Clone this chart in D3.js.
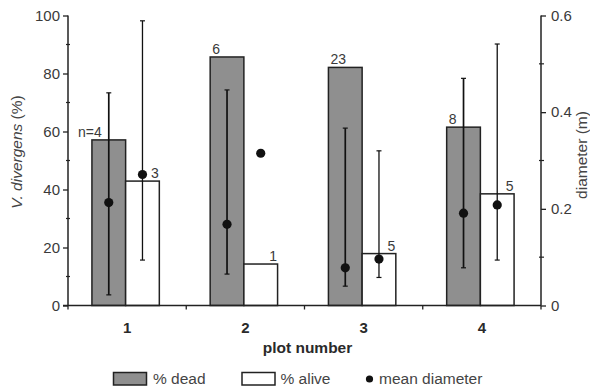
<!DOCTYPE html>
<html><head><meta charset="utf-8">
<script src="https://cdn.jsdelivr.net/npm/d3@7"></script>
<style>
html,body{margin:0;padding:0;background:#fff;}
svg{display:block;font-family:"Liberation Sans",Arial,sans-serif;}
</style></head>
<body><svg id="c" width="590" height="390"></svg>
<script>
const plots = ["1","2","3","4"];
const nDead = [4,6,23,8];
const nAlive = [3,1,5,5];
const pctDead = [57.1,85.7,82.1,61.5];
const pctAlive = [42.9,14.3,17.9,38.5];
const diamDead = [0.213,0.168,0.078,0.191];
const diamDeadLo = [0.022,0.065,0.040,0.078];
const diamDeadHi = [0.440,0.446,0.367,0.470];
const diamAlive = [0.271,0.315,0.096,0.208];
const diamAliveLo = [0.094,null,0.058,0.094];
const diamAliveHi = [0.589,null,0.320,0.541];
const leftTicks = [0,20,40,60,80,100];
const leftMinor = [10,30,50,70,90];
const rightTicks = [0,0.2,0.4,0.6];
const rightMinor = [0.1,0.3,0.5];
const legendLabels = ["% dead","% alive","mean diameter"];

const svg = d3.select("#c");
const L = 68, R = 541, B = 305.5, T = 15.5;
const x = d3.scaleBand().domain(plots).range([L,R]).padding(0);
const yL = d3.scaleLinear().domain([0,100]).range([B,T]);
const yR = d3.scaleLinear().domain([0,0.6]).range([B,T]);
const bw = x.bandwidth()*0.285;
const gc = p => x(p) + x.bandwidth()/2 - 1.5;
const deadX = p => gc(p) - bw;
const aliveX = p => gc(p);

const ink = "#222", txt = "#3a3a3a";

// bars
const rows = plots.map((p,i)=>({p,i}));
svg.append("g").selectAll("rect.dead").data(rows).join("rect")
  .attr("x",d=>deadX(d.p)).attr("y",d=>yL(pctDead[d.i]))
  .attr("width",bw).attr("height",d=>B-yL(pctDead[d.i]))
  .attr("fill","#8f8f8f").attr("stroke",ink).attr("stroke-width",1.5);
svg.append("g").selectAll("rect.alive").data(rows).join("rect")
  .attr("x",d=>aliveX(d.p)).attr("y",d=>yL(pctAlive[d.i]))
  .attr("width",bw).attr("height",d=>B-yL(pctAlive[d.i]))
  .attr("fill","#fff").attr("stroke",ink).attr("stroke-width",1.5);

// n labels
const lab = svg.append("g").attr("font-size",14).attr("fill",txt);
rows.forEach(d=>{
  const xx = deadX(d.p)+2, yy = yL(pctDead[d.i])-3;
  lab.append("text").attr("x",xx).attr("y",yy).text(nDead[d.i]);
  if(d.i===0) lab.append("text").attr("x",xx).attr("y",yy).attr("text-anchor","end").text("n=");
  lab.append("text").attr("x",aliveX(d.p)+bw-0.5).attr("y",yL(pctAlive[d.i])-3)
    .attr("text-anchor","end").text(nAlive[d.i]);
});

// error bars + dots
const eb = svg.append("g").attr("stroke","#111");
function drawErr(cx, m, lo, hi, sw){
  if(lo!=null){
    eb.append("line").attr("x1",cx).attr("x2",cx).attr("y1",yR(lo)).attr("y2",yR(hi)).attr("stroke-width",sw);
    [lo,hi].forEach(v=>eb.append("line").attr("x1",cx-2.5).attr("x2",cx+2.5).attr("y1",yR(v)).attr("y2",yR(v)).attr("stroke-width",1.2));
  }
  svg.append("circle").attr("cx",cx).attr("cy",yR(m)).attr("r",4.6).attr("fill","#111");
}
rows.forEach(d=>{
  drawErr(deadX(d.p)+bw/2, diamDead[d.i], diamDeadLo[d.i], diamDeadHi[d.i], 1.7);
  drawErr(aliveX(d.p)+bw/2, diamAlive[d.i], diamAliveLo[d.i], diamAliveHi[d.i], 1.3);
});

// left axis
const ga = svg.append("g").attr("transform",`translate(${L},0)`)
  .call(d3.axisLeft(yL).tickValues(leftTicks).tickSize(5).tickPadding(3).tickFormat(d3.format("d")));
ga.select(".domain").attr("stroke",ink).attr("stroke-width",1.5).attr("d",`M0,${T}V${B}`);
ga.selectAll(".tick line").attr("stroke",ink).attr("stroke-width",1.3);
ga.selectAll(".tick text").attr("font-size",15).attr("fill",txt).attr("font-family","Liberation Sans, Arial, sans-serif");
svg.append("g").selectAll("line").data(leftMinor).join("line")
  .attr("x1",L-2).attr("x2",L+2).attr("y1",d=>yL(d)).attr("y2",d=>yL(d)).attr("stroke",ink).attr("stroke-width",1.2);

// right axis
const gr = svg.append("g").attr("transform",`translate(${R},0)`)
  .call(d3.axisRight(yR).tickValues(rightTicks).tickSize(5).tickPadding(5).tickFormat(d=>d===0?"0":d3.format(".1f")(d)));
gr.select(".domain").attr("stroke",ink).attr("stroke-width",1.5).attr("d",`M0,${T}V${B}`);
gr.selectAll(".tick line").attr("stroke",ink).attr("stroke-width",1.3);
gr.selectAll(".tick text").attr("font-size",15).attr("fill",txt).attr("font-family","Liberation Sans, Arial, sans-serif");
svg.append("g").selectAll("line").data(rightMinor).join("line")
  .attr("x1",R-2).attr("x2",R+3).attr("y1",d=>yR(d)).attr("y2",d=>yR(d)).attr("stroke",ink).attr("stroke-width",1.2);

// bottom axis
svg.append("line").attr("x1",L-5).attr("x2",R).attr("y1",B).attr("y2",B).attr("stroke",ink).attr("stroke-width",1.5);
const bounds = plots.map(p=>x(p)).concat([R]);
svg.append("g").selectAll("line").data(bounds).join("line")
  .attr("x1",d=>d).attr("x2",d=>d).attr("y1",B).attr("y2",B+4).attr("stroke",ink).attr("stroke-width",1.3);
const gb = svg.append("g").attr("transform",`translate(0,${B})`)
  .call(d3.axisBottom(x).tickSize(0).tickPadding(16));
gb.select(".domain").remove();
gb.selectAll(".tick text").attr("font-size",15).attr("font-weight","bold").attr("fill","#2a2a2a")
  .attr("font-family","Liberation Sans, Arial, sans-serif").attr("dy",0).attr("y",27.5);

// axis titles
svg.append("text").attr("x",(L+R)/2+3).attr("y",353).attr("text-anchor","middle")
  .attr("font-size",15.5).attr("font-weight","bold").attr("fill","#2a2a2a").text("plot number");
const yt = svg.append("text").attr("transform","translate(22,152) rotate(-90)").attr("text-anchor","middle")
  .attr("font-size",15.5).attr("fill","#444");
yt.append("tspan").attr("font-style","italic").text("V. divergens");
yt.append("tspan").text(" (%)");
svg.append("text").attr("transform","translate(586.5,155) rotate(-90)").attr("text-anchor","middle")
  .attr("font-size",15.5).attr("fill","#444").text("diameter (m)");

// legend
const lg = svg.append("g").attr("font-size",15.5).attr("fill","#444");
lg.append("rect").attr("x",113.5).attr("y",372.5).attr("width",33).attr("height",12.5)
  .attr("fill","#8f8f8f").attr("stroke",ink).attr("stroke-width",1.5);
lg.append("text").attr("x",153).attr("y",384).text(legendLabels[0]);
lg.append("rect").attr("x",242).attr("y",372.5).attr("width",33).attr("height",12.5)
  .attr("fill","#fff").attr("stroke",ink).attr("stroke-width",1.5);
lg.append("text").attr("x",280.5).attr("y",384).text(legendLabels[1]);
lg.append("circle").attr("cx",369.5).attr("cy",379).attr("r",3.6).attr("fill","#111");
lg.append("text").attr("x",379).attr("y",384).text(legendLabels[2]);
</script></body></html>
